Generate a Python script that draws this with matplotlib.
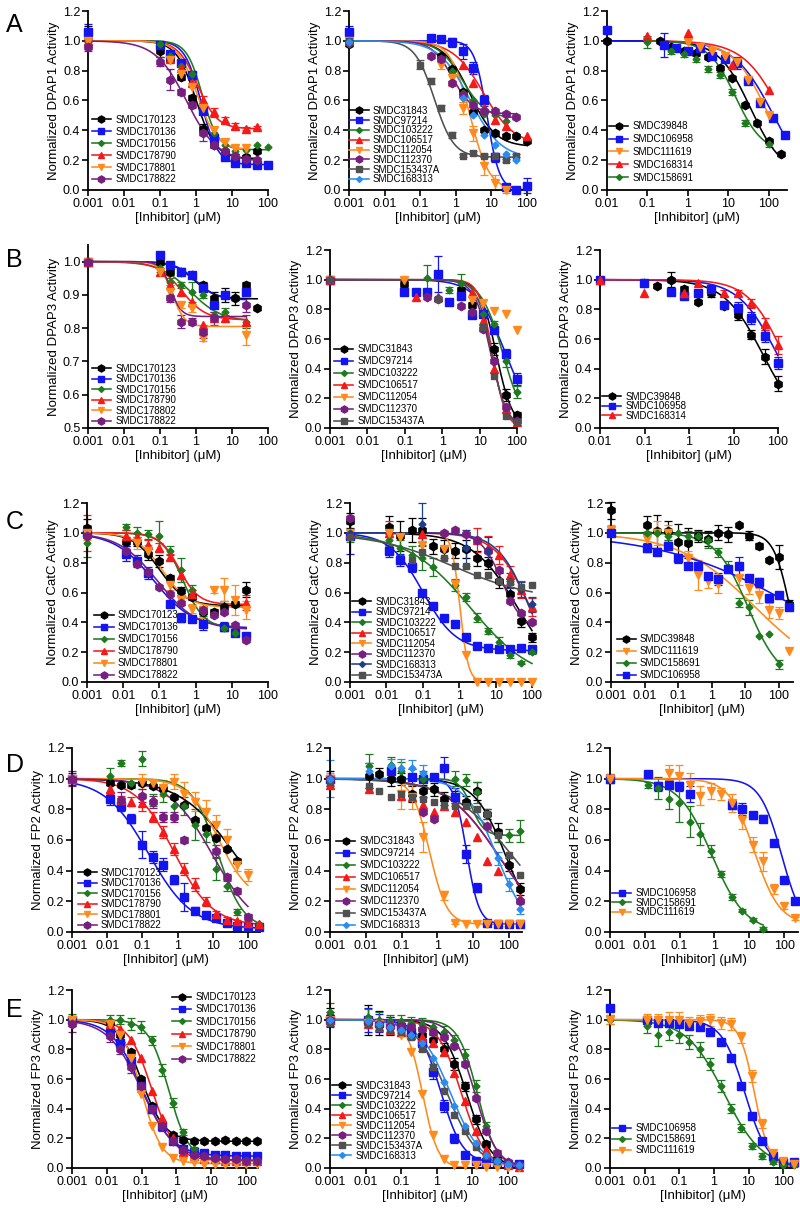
import numpy as np
import matplotlib
matplotlib.use("Agg")
import matplotlib.pyplot as plt
from matplotlib.lines import Line2D
from matplotlib.ticker import NullLocator

plt.rcParams['font.family'] = ['Liberation Sans', 'DejaVu Sans']

# ---------------- data ----------------
# concentration grids (uM); the control sits at the left edge of the axis
CONC_A = [0.001, 0.098, 0.195, 0.39, 0.78, 1.56, 3.125, 6.25, 12.5, 25, 50, 100]
CONC_C1 = [0.001, 0.012, 0.024, 0.049, 0.098, 0.195, 0.39, 0.78, 1.56, 3.125, 6.25, 12.5, 25]
CONC_C2 = [0.001, 0.012, 0.024, 0.049, 0.098, 0.195, 0.39, 0.78, 1.56, 3.125, 6.25, 12.5, 25, 50, 100]
CONC_F = [0.001, 0.012, 0.024, 0.049, 0.098, 0.195, 0.39, 0.78, 1.56, 3.125, 6.25, 12.5, 25, 50, 100, 200]

SET1 = ['SMDC170123', 'SMDC170136', 'SMDC170156', 'SMDC178790', 'SMDC178801', 'SMDC178822']
SET2 = ['SMDC31843', 'SMDC97214', 'SMDC103222', 'SMDC106517', 'SMDC112054', 'SMDC112370',
        'SMDC153437A', 'SMDC168313']

# A: DPAP1
A1_y = [[1.03, 0.93, 0.88, 0.76, 0.62, 0.41, 0.30, 0.25, 0.20, 0.22, 0.26, None],
        [1.06, 0.97, 0.91, 0.85, 0.77, 0.53, 0.35, 0.22, 0.18, 0.18, 0.17, 0.17],
        [1.00, 0.98, 0.90, 0.83, 0.78, 0.56, 0.38, 0.30, 0.26, 0.27, 0.30, 0.29],
        [1.00, None, 0.88, 0.82, 0.72, 0.60, 0.52, 0.47, 0.43, 0.41, 0.42, None],
        [1.00, None, 0.87, 0.78, 0.69, 0.55, 0.40, 0.32, 0.28, 0.28, None, None],
        [0.96, 0.86, 0.74, 0.66, 0.57, 0.38, 0.30, 0.26, 0.23, 0.21, 0.20, None]]
A1_err = {0: [0.07, 0.04, 0.02, 0.02, 0.02, 0.03, 0.01, 0.01, 0.01, 0.01, 0.01, 0],
          1: [0.05, 0.03, 0.02, 0.02, 0.02, 0.02, 0.01, 0.01, 0.01, 0.01, 0.01, 0.01],
          3: [0.03, 0, 0.02, 0.02, 0.02, 0.03, 0.03, 0.02, 0.02, 0.01, 0.01, 0],
          5: [0.03, 0.03, 0.07, 0.02, 0.02, 0.05, 0.02, 0.01, 0.01, 0.01, 0.01, 0]}
A1_fit = [(0.21, 1.0, 1.6), (0.17, 1.4, 1.9), (0.27, 1.5, 2.0), (0.41, 1.1, 1.6),
          (0.27, 1.1, 1.6), (0.19, 0.55, 1.0)]

A2_y = [[0.98, None, None, 0.90, 0.81, 0.66, 0.52, 0.40, 0.38, 0.36, 0.36, 0.33],
        [1.06, None, 1.02, 1.01, 0.99, 0.93, 0.82, 0.60, 0.22, 0.02, 0.00, 0.03],
        [0.98, None, None, 0.88, 0.80, 0.65, 0.60, 0.51, 0.50, 0.46, 0.49, None],
        [1.00, None, None, None, None, 0.84, 0.72, 0.55, 0.47, 0.43, None, 0.36],
        [1.00, None, None, 0.84, 0.75, 0.55, 0.38, 0.16, 0.05, 0.00, None, None],
        [0.99, None, 0.90, 0.88, 0.72, 0.64, 0.57, 0.53, 0.53, 0.51, 0.49, None],
        [1.00, 0.84, 0.73, 0.55, 0.37, 0.23, 0.25, 0.23, 0.23, 0.20, 0.23, None],
        [0.99, None, None, None, None, 0.62, 0.50, 0.37, 0.30, 0.24, 0.20, None]]
A2_err = {1: [0.04, 0, 0.02, 0.02, 0.03, 0.05, 0.04, 0.04, 0.03, 0.02, 0.02, 0.05],
          4: [0.02, 0, 0, 0.03, 0.05, 0.04, 0.05, 0.06, 0.05, 0.02, 0, 0],
          6: [0.02, 0.03, 0.02, 0.02, 0.02, 0.01, 0.01, 0.01, 0.01, 0.01, 0.01, 0]}
A2_fit = [(0.29, 2.5, 1.2), (0.0, 7.5, 2.5), (0.48, 1.5, 1.3), (0.30, 6.0, 1.0),
          (0.0, 2.5, 1.6), (0.51, 0.8, 1.5), (0.22, 0.25, 1.6), (0.21, 2.5, 1.0)]

A3_names = ['SMDC39848', 'SMDC106958', 'SMDC111619', 'SMDC168314', 'SMDC158691']
A3_x = [[0.01, 0.2, 0.39, 0.78, 1.56, 3.1, 6.25, 12.5, 25, 50, 100, 200],
        [0.01, 0.25, 0.5, 1, 2, 4, 8, 16, 31, 62, 125, 250],
        [0.1, 1, 2, 4, 8, 16, 31, 62, 100],
        [0.1, 1, 12.5, 100],
        [0.1, 0.39, 0.78, 1.56, 3.1, 6.25, 12.5, 25, 100]]
A3_y = [[1.00, 1.00, 0.96, 0.93, 0.92, 0.89, 0.82, 0.75, 0.57, 0.45, 0.33, 0.24],
        [1.07, 0.97, 0.95, 0.93, 0.95, 0.90, 0.88, 0.85, 0.73, 0.58, 0.48, 0.37],
        [1.00, 0.99, 0.96, 0.93, 0.90, 0.86, 0.74, 0.59, 0.50],
        [1.03, 1.05, 0.84, 0.67],
        [0.99, 0.93, 0.91, 0.88, 0.81, 0.77, 0.66, 0.45, 0.31]]
A3_err = {1: [0, 0.08, 0.02, 0.02, 0.02, 0.02, 0.02, 0.04, 0.02, 0.02, 0.02, 0.02],
          4: [0.04, 0.02, 0.02, 0.02, 0.02, 0.02, 0.02, 0.02, 0.02]}
A3_fit = [(0.1, 35, 1.1), (0.0, 130, 0.9), (0.0, 100, 1.0), (0.0, 220, 0.9), (0.25, 15, 1.3)]

# B: DPAP3
B1_names = ['SMDC170123', 'SMDC170136', 'SMDC170156', 'SMDC178790', 'SMDC178802', 'SMDC178822']
B1_conc = [0.001, 0.098, 0.195, 0.39, 0.78, 1.56, 3.125, 6.25, 12.5, 25, 50]
B1_y = [[1.00, 1.00, 0.97, 0.97, 0.96, 0.93, 0.89, 0.90, 0.89, 0.93, 0.86],
        [1.00, 1.02, 0.99, 0.97, 0.96, 0.92, 0.87, 0.90, None, 0.91, None],
        [1.00, 0.98, 0.94, 0.93, 0.91, 0.90, 0.84, 0.85, None, 0.82, None],
        [1.00, 0.97, 0.93, 0.91, 0.88, 0.81, 0.83, 0.83, None, 0.82, None],
        [1.00, 0.97, 0.91, 0.87, 0.86, 0.77, None, None, None, 0.78, None],
        [1.00, None, 0.89, 0.82, 0.82, 0.79, 0.83, None, None, 0.87, None]]
B1_err = {0: [0, 0.01, 0.01, 0.01, 0.01, 0.01, 0.02, 0.02, 0.02, 0.01, 0],
          2: [0, 0.01, 0.01, 0.01, 0.03, 0.01, 0.01, 0.01, 0, 0.02, 0],
          4: [0, 0.01, 0.02, 0.01, 0.01, 0.01, 0, 0, 0, 0.03, 0],
          5: [0, 0, 0.01, 0.02, 0.01, 0.02, 0.02, 0, 0, 0.02, 0]}
B1_fit = [(0.888, 0.9, 1.5), (0.885, 1.0, 1.5), (0.82, 0.7, 1.0), (0.825, 0.4, 1.3),
          (0.805, 0.22, 2.5), (0.835, 0.2, 3.0)]

B2_names = SET2[:7]
B2_y = [[1.00, 0.97, None, None, None, None, 0.93, 0.83, 0.77, 0.53, 0.22, 0.09],
        [1.00, 0.92, 0.92, 0.92, 1.04, 0.85, 0.89, 0.76, 0.77, 0.66, 0.50, 0.33],
        [1.00, None, None, 1.01, None, 0.93, 0.98, None, 0.77, 0.70, 0.45, 0.24],
        [1.00, None, 0.88, None, 0.88, None, None, 0.91, 0.72, 0.40, 0.13, 0.04],
        [1.00, 1.00, None, None, None, None, None, 0.86, 0.84, 0.79, 0.77, 0.66],
        [1.00, None, None, 0.88, 0.87, None, 0.82, 0.78, 0.67, 0.45, 0.14, 0.05],
        [1.00, None, None, None, 0.87, None, None, None, 0.68, 0.35, 0.08, 0.04]]
B2_err = {1: [0, 0.02, 0.02, 0.02, 0.12, 0.02, 0.02, 0.02, 0.02, 0.02, 0.03, 0.04],
          2: [0, 0, 0, 0.09, 0, 0.02, 0.06, 0, 0.02, 0.02, 0.04, 0.04],
          0: [0, 0.02, 0, 0, 0, 0, 0.02, 0.02, 0.02, 0.04, 0.04, 0.02]}
B2_fit = [(0.0, 28, 2.0), (0.0, 50, 1.1), (0.0, 42, 1.5), (0.0, 22, 2.5), None,
          (0.0, 20, 2.0), (0.0, 21, 2.2)]

B3_names = ['SMDC39848', 'SMDC106958', 'SMDC168314']
B3_conc = [0.01, 0.098, 0.195, 0.39, 0.78, 1.56, 3.125, 6.25, 12.5, 25, 50, 100]
B3_y = [[1.00, 0.98, 0.96, 1.00, 0.94, 0.85, 0.91, 0.82, 0.76, 0.63, 0.48, 0.30],
        [1.00, 0.98, None, 0.92, 0.89, 0.91, 0.94, 0.83, 0.81, 0.74, 0.62, 0.44],
        [1.00, 0.91, None, None, 0.91, 0.98, None, 0.91, 0.91, 0.84, 0.70, 0.56]]
B3_err = {0: [0, 0.01, 0.01, 0.05, 0.02, 0.01, 0.03, 0.01, 0.03, 0.03, 0.05, 0.05],
          1: [0, 0.01, 0, 0.02, 0.01, 0.02, 0.02, 0.02, 0.04, 0.04, 0.04, 0.04],
          2: [0, 0, 0, 0, 0, 0, 0, 0.02, 0.02, 0.03, 0.04, 0.06]}
B3_fit = [(0.0, 45, 1.0), (0.0, 95, 1.0), (0.0, 130, 1.1)]

# C: CatC
C1_y = [[1.03, 0.94, 0.94, 0.86, 0.81, 0.70, 0.61, 0.57, 0.47, 0.47, 0.50, 0.52, 0.62],
        [1.00, 0.86, 0.81, 0.73, None, 0.52, 0.43, 0.42, 0.39, None, 0.37, 0.33, 0.31],
        [0.93, 1.04, 1.00, 0.99, 0.98, 0.88, 0.75, 0.62, 0.47, None, 0.36, 0.33, None],
        [1.00, 0.98, 0.97, 0.92, 0.90, 0.84, 0.72, 0.59, None, None, None, None, 0.53],
        [1.00, None, 0.93, 0.88, None, 0.65, 0.55, 0.49, 0.48, 0.62, 0.62, 0.55, 0.48],
        [0.98, 0.88, 0.79, 0.74, 0.64, 0.59, 0.53, None, 0.48, 0.45, 0.47, 0.38, 0.28]]
C1_err = {0: [0.06, 0.03, 0.03, 0.04, 0.04, 0.02, 0.03, 0.02, 0.04, 0.02, 0.04, 0.02, 0.05],
          1: [0.03, 0.05, 0.04, 0.04, 0, 0.02, 0.03, 0.02, 0.04, 0, 0.03, 0.02, 0.02],
          2: [0.09, 0.02, 0.04, 0.03, 0.10, 0.03, 0.08, 0.03, 0.03, 0, 0.02, 0.02, 0],
          3: [0.12, 0.04, 0.03, 0.03, 0.03, 0.02, 0.03, 0.03, 0, 0, 0, 0, 0.05],
          4: [0.05, 0, 0.04, 0.04, 0, 0.03, 0.03, 0.03, 0.05, 0.02, 0.08, 0.10, 0.06]}
C1_fit = [(0.51, 0.1, 1.2), (0.36, 0.07, 0.8), (0.36, 0.45, 1.5), (0.52, 0.35, 1.6),
          (0.50, 0.12, 1.2), (0.35, 0.09, 0.8)]

C2_names = ['SMDC31843', 'SMDC97214', 'SMDC103222', 'SMDC106517', 'SMDC112054', 'SMDC112370',
            'SMDC168313', 'SMDC153473A']
C2_y = [[1.08, 1.04, 0.98, 1.02, 1.02, 0.91, 0.89, 0.88, 0.89, 0.83, 0.80, 0.68, 0.59, 0.41, 0.30],
        [0.98, 0.88, 0.82, 0.77, 0.60, 0.51, 0.43, 0.39, 0.30, 0.24, 0.23, 0.22, 0.22, 0.23, 0.22],
        [1.00, 0.95, 0.90, 0.85, 0.83, 0.77, None, 0.65, 0.57, 0.43, 0.34, 0.27, 0.18, 0.13, 0.20],
        [1.00, 1.00, None, None, 0.99, None, None, None, None, 0.95, 0.90, 0.85, 0.72, 0.62, 0.50],
        [1.00, 1.00, 0.97, None, 0.92, None, 0.89, 0.66, 0.18, 0.0, 0.0, 0.0, 0.0, 0.0, 0.0],
        [1.10, None, None, None, None, None, 1.00, 1.02, 0.99, 0.95, 0.88, 0.75, 0.54, 0.46, 0.40],
        [1.00, None, None, None, 1.06, None, None, None, 0.90, None, 0.88, None, 0.68, 0.62, 0.52],
        [0.97, None, None, 0.82, 0.87, None, 0.83, 0.78, 0.78, 0.72, 0.72, 0.68, 0.67, 0.64, 0.65]]
C2_err = {0: [0.05, 0.07, 0.10, 0.08, 0.08, 0.05, 0.06, 0.05, 0.06, 0.05, 0.04, 0.05, 0.05, 0.04, 0.03],
          1: [0.12, 0.04, 0.04, 0.03, 0.02, 0.02, 0.02, 0.02, 0.02, 0.02, 0.01, 0.01, 0.01, 0.02, 0.02],
          2: [0.06, 0.04, 0.05, 0.06, 0.08, 0.06, 0, 0.04, 0.03, 0.03, 0.02, 0.03, 0.02, 0.01, 0.01],
          3: [0, 0.08, 0, 0, 0, 0, 0, 0, 0, 0.08, 0.08, 0.06, 0.06, 0.06, 0.06],
          6: [0, 0, 0, 0, 0.14, 0, 0, 0, 0.12, 0, 0.09, 0, 0.05, 0.05, 0.05]}
C2_fit = [(0.0, 40, 0.7), (0.21, 0.1, 0.95), (0.0, 2.0, 0.5), (0.0, 90, 0.9), (0.0, 1.05, 3.8),
          (0.35, 15, 1.5), (0.0, 85, 1.0), (0.55, 0.7, 0.4)]

C3_names = ['SMDC39848', 'SMDC111619', 'SMDC158691', 'SMDC106958']
C3_y = [[1.15, 1.05, 1.01, 1.01, 0.94, 0.93, 0.98, 0.96, 1.00, 0.99, 1.05, 0.98, 0.91, 0.82, 0.84, 0.52],
        [1.02, 0.96, 1.00, 1.00, None, 0.83, 0.72, 0.68, 0.66, None, 0.70, 0.63, 0.58, 0.48, 0.46, 0.21],
        [1.00, 1.00, 1.00, 0.98, 1.00, 0.98, 0.98, 0.95, 0.87, 0.77, 0.53, 0.50, 0.31, 0.32, 0.12, None],
        [1.00, 0.90, 0.87, 0.91, 0.83, 0.78, 0.78, 0.71, 0.69, 0.76, 0.78, 0.70, 0.67, 0.56, 0.58, 0.50]]
C3_err = {0: [0.06, 0.06, 0.11, 0.07, 0.12, 0.10, 0.04, 0.05, 0.05, 0.05, 0, 0.03, 0.02, 0, 0.08, 0.03],
          1: [0.03, 0.05, 0.08, 0.05, 0, 0.05, 0.10, 0.05, 0.06, 0, 0.05, 0.04, 0.05, 0.05, 0.04, 0],
          2: [0, 0, 0, 0.03, 0, 0.03, 0.03, 0.05, 0.03, 0.04, 0.03, 0.05, 0, 0, 0.03, 0],
          3: [0, 0.03, 0, 0, 0.03, 0, 0, 0.02, 0.04, 0.02, 0.06, 0.02, 0.03, 0.02, 0.02, 0.02]}
C3_fit = [(0.0, 210, 1.8), (0.0, 20, 0.38), (0.0, 12, 0.9), (0.0, 350, 0.216)]

# D: FP2
D1_y = [[1.00, 0.97, 0.96, 0.96, 0.97, 0.95, 0.93, 0.88, 0.83, 0.73, 0.68, 0.61, 0.54, 0.46, None, None],
        [1.00, 0.87, 0.82, 0.74, 0.57, 0.49, 0.44, 0.34, 0.23, 0.14, 0.11, 0.09, 0.06, 0.04, 0.03, 0.03],
        [1.00, 1.02, 1.10, 0.97, 1.13, 0.86, 0.90, 0.82, 0.82, 0.70, 0.64, 0.41, 0.30, 0.13, 0.10, 0.05],
        [1.00, 0.93, 0.86, 0.85, 0.84, 0.75, 0.65, 0.54, 0.41, 0.31, 0.20, 0.12, 0.08, 0.07, 0.06, 0.05],
        [1.00, None, None, None, 0.98, 0.97, 0.94, 0.98, 0.90, 0.85, 0.78, 0.70, 0.60, 0.44, 0.37, None],
        [1.00, None, 0.86, None, 0.89, 0.85, 0.75, 0.75, 0.60, None, None, 0.53, 0.36, 0.27, 0.10, None]]
D1_err = {1: [0.04, 0.04, 0.03, 0.03, 0.09, 0.04, 0.04, 0.03, 0.09, 0.02, 0.02, 0.01, 0.01, 0.01, 0.01, 0.01],
          2: [0, 0.05, 0.02, 0.03, 0.05, 0.04, 0.05, 0.06, 0.06, 0.10, 0.05, 0.07, 0.03, 0.02, 0.01, 0.01],
          3: [0, 0.03, 0.03, 0.03, 0.05, 0.03, 0.04, 0.04, 0.04, 0.04, 0.03, 0.02, 0.02, 0.01, 0.01, 0.01],
          4: [0, 0, 0, 0, 0.05, 0.03, 0.05, 0.05, 0.08, 0.06, 0.08, 0.06, 0.07, 0.04, 0.04, 0],
          5: [0.05, 0, 0.05, 0, 0.04, 0.04, 0.03, 0.03, 0.02, 0, 0, 0.04, 0.02, 0.02, 0.02, 0]}
D1_fit = [(0.0, 45, 0.55), (0.02, 0.15, 0.7), (0.02, 14, 1.2), (0.04, 0.8, 0.8),
          (0.2, 15, 1.0), (0.0, 10, 0.7)]

D2_y = [[1.00, 1.02, 1.03, 1.00, 1.00, 0.90, 0.92, 0.93, 0.87, 0.88, 0.85, 0.92, 0.77, 0.65, 0.44, 0.28],
        [1.00, None, None, 1.05, None, 1.01, 1.00, 1.01, 1.07, 0.88, 0.51, 0.29, 0.06, 0.05, 0.05, 0.05],
        [1.00, 1.08, None, 1.09, 1.05, None, 1.00, None, None, 1.00, 0.99, 0.91, 0.77, 0.63, 0.63, 0.66],
        [0.96, 0.93, None, None, 0.89, 0.88, 0.83, 0.78, 0.82, 0.78, 0.72, 0.62, 0.46, 0.40, None, 0.22],
        [1.00, None, None, None, 0.90, 0.88, 0.62, None, 0.24, 0.06, 0.05, 0.05, 0.05, 0.05, 0.05, 0.05],
        [1.00, None, None, None, None, None, 0.78, 0.74, None, None, None, None, 0.69, None, None, 0.20],
        [0.98, 0.95, 0.92, 0.88, 0.90, 0.88, 0.87, 0.85, 0.83, 0.82, 0.82, 0.80, 0.77, 0.63, 0.50, 0.37],
        [1.00, 1.05, None, 1.08, 1.07, 1.07, 1.04, None, None, None, None, None, None, 0.48, 0.31, 0.15]]
D2_err = {0: [0.05, 0.08, 0.04, 0.05, 0.04, 0.05, 0.04, 0.04, 0.04, 0.04, 0.04, 0.06, 0.03, 0.06, 0.04, 0.04],
          1: [0, 0, 0, 0, 0, 0.05, 0, 0, 0.07, 0.06, 0.06, 0.03, 0, 0, 0, 0],
          2: [0, 0.08, 0, 0.05, 0.06, 0, 0.05, 0, 0, 0.05, 0.04, 0.07, 0.03, 0.04, 0.04, 0.07],
          4: [0.04, 0, 0, 0, 0.10, 0.08, 0.10, 0, 0.03, 0.01, 0, 0, 0, 0, 0, 0],
          7: [0.12, 0.05, 0, 0.05, 0.06, 0.05, 0.05, 0, 0, 0, 0, 0, 0, 0.04, 0.04, 0.03]}
D2_fit = [(0.0, 80, 1.0), (0.05, 6.5, 2.5), (0.63, 9, 2.5), (0.0, 50, 0.6), (0.05, 0.6, 1.8),
          (0.0, 50, 0.6), (0.0, 120, 0.5), (0.0, 45, 1.0)]

D3_names = ['SMDC106958', 'SMDC158691', 'SMDC111619']
D3_y = [[1.00, 1.03, 0.95, 0.96, 0.95, 0.90, None, None, None, 0.83, 0.80, 0.76, 0.74, 0.58, 0.34, 0.20],
        [1.00, 0.96, 0.94, 0.87, 0.84, 0.72, 0.64, 0.53, 0.38, 0.23, 0.14, 0.08, 0.02, None, None, None],
        [1.00, None, None, 1.04, 1.02, 0.96, 0.89, 0.92, 0.90, 0.84, 0.73, 0.57, 0.46, 0.28, 0.17, 0.09]]
D3_err = {0: [0.03, 0, 0.03, 0.03, 0.03, 0.05, 0, 0, 0, 0.03, 0.04, 0.02, 0.02, 0.02, 0.02, 0.02],
          1: [0, 0.02, 0.07, 0.07, 0.12, 0.10, 0.07, 0.04, 0.02, 0.02, 0.01, 0.01, 0.01, 0, 0, 0],
          2: [0.03, 0, 0, 0.05, 0.07, 0.08, 0.06, 0.05, 0.04, 0.06, 0.06, 0.05, 0.06, 0.03, 0.02, 0.01]}
D3_fit = [(0.0, 85, 1.4), (0.0, 0.85, 0.9), (0.05, 14, 1.2)]

# E: FP3
E1_y = [[1.00, 0.98, 0.90, 0.78, 0.60, 0.42, 0.30, 0.22, 0.19, 0.18, 0.18, 0.18, 0.19, 0.18, 0.18, 0.18],
        [1.00, 0.92, 0.84, 0.72, 0.55, 0.40, 0.28, 0.18, 0.13, 0.11, 0.10, 0.09, 0.09, 0.08, 0.08, 0.08],
        [1.00, 1.00, 1.00, 0.97, 0.95, 0.86, 0.66, 0.44, 0.24, 0.13, 0.08, 0.07, 0.06, 0.05, 0.05, 0.05],
        [1.00, 0.97, 0.94, 0.86, 0.74, 0.52, 0.34, 0.20, 0.11, 0.08, 0.06, 0.06, 0.05, 0.05, 0.05, 0.05],
        [1.00, 0.97, 0.90, 0.74, 0.50, 0.28, 0.14, 0.07, 0.05, 0.04, 0.03, 0.03, 0.03, 0.03, 0.03, 0.03],
        [0.97, 0.89, 0.80, 0.68, 0.55, 0.40, 0.28, 0.18, 0.12, 0.09, 0.08, 0.07, 0.06, 0.06, 0.05, 0.05]]
E1_err = {2: [0.04, 0.03, 0.03, 0.04, 0.04, 0.03, 0.04, 0.03, 0.02, 0.01, 0.01, 0.01, 0.01, 0.01, 0.01, 0.01],
          5: [0.05, 0.04, 0.03, 0.04, 0.04, 0.03, 0.03, 0.02, 0.01, 0.01, 0.01, 0.01, 0.01, 0.01, 0.01, 0.01]}
E1_fit = [(0.18, 0.1, 1.3), (0.08, 0.1, 1.0), (0.05, 0.6, 1.5), (0.05, 0.2, 1.3),
          (0.03, 0.1, 1.5), (0.05, 0.1, 0.9)]

E2_y = [[1.02, 1.00, 0.98, 0.96, 0.94, 0.92, 0.90, 0.86, 0.80, 0.70, 0.55, 0.33, 0.16, 0.06, 0.03, 0.02],
        [1.00, 1.00, 0.98, 0.97, 0.95, 0.92, 0.84, 0.65, 0.42, 0.20, 0.09, 0.05, 0.04, 0.04, 0.03, 0.03],
        [1.05, 1.02, 1.00, 0.99, 0.99, 0.98, 0.97, 0.95, 0.92, 0.86, 0.76, 0.55, 0.28, 0.10, 0.04, 0.02],
        [1.00, 0.97, 0.95, 0.93, 0.92, 0.90, 0.88, 0.84, 0.78, 0.64, 0.45, 0.25, 0.12, 0.05, 0.02, 0.01],
        [1.00, 0.98, 0.97, 0.95, 0.90, 0.78, 0.50, 0.22, 0.06, 0.02, 0.02, 0.02, 0.01, 0.01, 0.01, 0.01],
        [1.00, 0.98, 0.97, 0.96, 0.96, 0.95, 0.94, 0.92, 0.88, 0.82, 0.70, 0.47, 0.25, 0.10, 0.04, 0.02],
        [0.98, 0.97, 0.95, 0.93, 0.92, 0.88, 0.80, 0.68, 0.52, 0.36, 0.25, 0.14, 0.08, 0.05, None, None],
        [1.00, 0.99, 0.97, 0.95, 0.93, 0.90, 0.84, 0.74, 0.58, 0.42, 0.28, 0.17, 0.09, 0.05, 0.03, 0.02]]
E2_err = {0: [0.06, 0.10, 0.08, 0.06, 0.05, 0.05, 0.04, 0.04, 0.04, 0.04, 0.03, 0.03, 0.02, 0.01, 0.01, 0.01],
          1: [0.05, 0.08, 0.06, 0.05, 0.04, 0.04, 0.05, 0.05, 0.04, 0.03, 0.02, 0.01, 0.01, 0.01, 0.01, 0.01],
          2: [0.06, 0.05, 0.05, 0.04, 0.04, 0.04, 0.04, 0.04, 0.04, 0.04, 0.04, 0.04, 0.03, 0.02, 0.01, 0.01]}
E2_fit = [(0.0, 7, 1.3), (0.03, 1.3, 1.4), (0.0, 14, 1.6), (0.0, 5, 1.3), (0.0, 0.4, 2.0),
          (0.0, 12, 1.4), (0.0, 2, 1.0), (0.0, 2.5, 1.0)]

E3_names = ['SMDC106958', 'SMDC158691', 'SMDC111619']
E3_y = [[1.08, 1.00, 0.98, 0.98, 0.97, 0.96, 0.95, 0.92, 0.85, 0.74, 0.55, 0.35, 0.18, 0.08, 0.04, 0.04],
        [1.00, 0.96, 0.90, 0.92, 0.90, 0.85, 0.80, 0.70, 0.55, 0.40, 0.27, 0.15, 0.08, 0.04, 0.02, 0.02],
        [1.00, 1.00, 1.00, 1.00, 1.00, 0.98, 0.99, 1.00, 0.98, 0.97, 0.88, 0.62, 0.30, 0.10, 0.05, 0.03]]
E3_err = {1: [0.03, 0.05, 0.08, 0.06, 0.06, 0.05, 0.05, 0.04, 0.04, 0.03, 0.03, 0.02, 0.02, 0.01, 0.01, 0.01],
          2: [0.03, 0.04, 0.04, 0.05, 0.05, 0.04, 0.04, 0.04, 0.04, 0.04, 0.04, 0.04, 0.03, 0.02, 0.01, 0.01]}
E3_fit = [(0.0, 8, 1.3), (0.0, 2, 0.8), (0.0, 15, 2.0)]

# ---------------- styles ----------------
BLACK, BLUE, GREEN, RED = '#000000', '#1414f0', '#1f7a1f', '#f51a1a'
ORANGE, PURPLE, GRAY, LTBLUE, NAVY = '#ff8a1e', '#771f7f', '#505050', '#2b8cf0', '#1c3f8c'
STYLE = {
    'SMDC170123': (BLACK, 'h', 6), 'SMDC170136': (BLUE, 's', 5.5), 'SMDC170156': (GREEN, 'D', 3.5),
    'SMDC178790': (RED, '^', 5.5), 'SMDC178801': (ORANGE, 'v', 5.5), 'SMDC178802': (ORANGE, 'v', 5.5),
    'SMDC178822': (PURPLE, 'h', 6),
    'SMDC31843': (BLACK, 'h', 6), 'SMDC97214': (BLUE, 's', 5.5), 'SMDC103222': (GREEN, 'D', 3.5),
    'SMDC106517': (RED, '^', 5.5), 'SMDC112054': (ORANGE, 'v', 5.5), 'SMDC112370': (PURPLE, 'h', 6),
    'SMDC153437A': (GRAY, 's', 5), 'SMDC153473A': (GRAY, 's', 5), 'SMDC168313': (LTBLUE, 'D', 3.5),
    'SMDC39848': (BLACK, 'h', 6), 'SMDC106958': (BLUE, 's', 5.5), 'SMDC111619': (ORANGE, 'v', 5.5),
    'SMDC168314': (RED, '^', 5.5), 'SMDC158691': (GREEN, 'D', 3.5),
}

W, H = 800, 1218
fig = plt.figure(figsize=(W / 100, H / 100), dpi=100)


def hill(x, bottom, ic50, h):
    return bottom + (1.0 - bottom) / (1 + (x / ic50) ** h)


def fmt(t):
    return ('%g' % t)


def panel(box, names, conc, ys, errs, fits, xlim, ylim, yticks, xticks, ylabel, leg, override=None):
    l, t, r, b = box
    ax = fig.add_axes([l / W, 1 - b / H, (r - l) / W, (b - t) / H])
    override = override or {}
    for i, name in enumerate(names):
        color, marker, ms = STYLE[name]
        color = override.get(name, color)
        x = np.array(conc[i] if isinstance(conc[0], list) else conc, float)
        y = np.array([np.nan if v is None else v for v in ys[i]], float)
        ok = ~np.isnan(y)
        if i in errs:
            e = np.array(errs[i], float)
            m = ok & (e > 0)
            ax.errorbar(x[m], y[m], yerr=e[m], fmt='none', ecolor=color, elinewidth=0.9,
                        capsize=2.8, capthick=0.9, zorder=2, clip_on=False)
        ax.plot(x[ok], y[ok], ls='none', marker=marker, color=color, ms=ms, mec=color,
                zorder=3, clip_on=False)
        if fits[i] is not None:
            xx = np.logspace(np.log10(x[ok].min()), np.log10(x[ok].max()), 300)
            ax.plot(xx, hill(xx, *fits[i]), color=color, lw=1.15, zorder=2.5, clip_on=False)
    ax.set_xscale('log')
    ax.set_xlim(*xlim)
    ax.set_ylim(*ylim)
    ax.set_xticks(xticks)
    ax.set_xticklabels([fmt(v) for v in xticks])
    ax.xaxis.set_minor_locator(NullLocator())
    ax.set_yticks(yticks)
    ax.set_yticklabels(['%.1f' % v for v in yticks])
    for s in ('top', 'right'):
        ax.spines[s].set_visible(False)
    for s in ('left', 'bottom'):
        ax.spines[s].set_linewidth(1.3)
    ax.tick_params(direction='out', length=4, width=1.2, labelsize=9, pad=1.5)
    ax.set_xlabel('[Inhibitor] (\u03bcM)', fontsize=9.5, labelpad=2)
    ax.set_ylabel(ylabel, fontsize=9.5, labelpad=2)
    handles = []
    for name in names:
        color, marker, ms = STYLE[name]
        color = override.get(name, color)
        handles.append(Line2D([], [], color=color, marker=marker, ms=ms * 0.85, lw=1.15))
    loc, anchor, spacing = leg
    ax.legend(handles, names, loc=loc, bbox_to_anchor=anchor, frameon=False, fontsize=7,
              labelspacing=spacing, handlelength=2.0, handletextpad=0.4, borderpad=0.2,
              borderaxespad=0.0)
    return ax


DEC5 = [0.001, 0.01, 0.1, 1, 10, 100]
DEC4 = [0.01, 0.1, 1, 10, 100]
Y12 = [0.0, 0.2, 0.4, 0.6, 0.8, 1.0, 1.2]
YB1 = [0.5, 0.6, 0.7, 0.8, 0.9, 1.0]

panel((88, 11, 268, 190), SET1, CONC_A, A1_y, A1_err, A1_fit, (0.001, 100), (0, 1.2), Y12, DEC5,
      'Normalized DPAP1 Activity', ('lower left', (0.01, 0.02), 0.2))
panel((349, 11, 527, 190), SET2, CONC_A, A2_y, A2_err, A2_fit, (0.001, 100), (0, 1.2), Y12, DEC5,
      'Normalized DPAP1 Activity', ('lower left', (-0.01, 0.02), -0.02))
panel((607, 11, 787, 190), A3_names, A3_x, A3_y, A3_err, A3_fit, (0.01, 280), (0, 1.2), Y12, DEC4,
      'Normalized DPAP1 Activity', ('lower left', (0.0, 0.03), 0.3))

panel((88, 245, 268, 428), B1_names, B1_conc, B1_y, B1_err, B1_fit, (0.001, 100), (0.5, 1.05), YB1, DEC5,
      'Normalized DPAP3 Activity', ('lower left', (0.01, 0.0), 0.05))
panel((330, 250, 517, 428), B2_names, CONC_A, B2_y, B2_err, B2_fit, (0.001, 100), (0, 1.2), Y12, DEC5,
      'Normalized DPAP3 Activity', ('lower left', (0.01, 0.0), 0.2))
panel((600, 250, 778, 428), B3_names, B3_conc, B3_y, B3_err, B3_fit, (0.01, 100), (0, 1.2), Y12, DEC4,
      'Normalized DPAP3 Activity', ('lower left', (0.0, 0.03), -0.05))

panel((87, 503, 268, 682), SET1, CONC_C1, C1_y, C1_err, C1_fit, (0.001, 100), (0, 1.2), Y12, DEC5,
      'Normalized CatC Activity', ('lower left', (0.03, 0.0), 0.2))
panel((350, 503, 532, 682), C2_names, CONC_C2, C2_y, C2_err, C2_fit, (0.001, 100), (0, 1.2), Y12, DEC5,
      'Normalized CatC Activity', ('lower left', (0.0, 0.0), 0.05), override={'SMDC168313': NAVY})
panel((611, 503, 793, 682), C3_names, CONC_F, C3_y, C3_err, C3_fit, (0.001, 260), (0, 1.2), Y12, DEC5,
      'Normalized CatC Activity', ('lower left', (0.02, 0.0), 0.2))

panel((72, 748, 260, 932), SET1, CONC_F, D1_y, D1_err, D1_fit, (0.001, 220), (0, 1.2), Y12, DEC5,
      'Normalized FP2 Activity', ('lower left', (0.02, 0.0), 0.05))
panel((330, 748, 522, 932), SET2, CONC_F, D2_y, D2_err, D2_fit, (0.001, 230), (0, 1.2), Y12, DEC5,
      'Normalized FP2 Activity', ('lower left', (0.02, 0.0), 0.2))
panel((610, 748, 798, 932), D3_names, CONC_F, D3_y, D3_err, D3_fit, (0.001, 250), (0, 1.2), Y12, DEC5,
      'Normalized FP2 Activity', ('lower left', (0.0, 0.07), -0.05))

panel((72, 990, 258, 1168), SET1, CONC_F, E1_y, E1_err, E1_fit, (0.001, 220), (0, 1.2), Y12, DEC5,
      'Normalized FP3 Activity', ('upper right', (1.0, 1.0), 0.25))
panel((330, 990, 520, 1168), SET2, CONC_F, E2_y, E2_err, E2_fit, (0.001, 220), (0, 1.2), Y12, DEC5,
      'Normalized FP3 Activity', ('lower left', (0.0, 0.03), 0.0))
panel((610, 990, 795, 1168), E3_names, CONC_F, E3_y, E3_err, E3_fit, (0.001, 220), (0, 1.2), Y12, DEC5,
      'Normalized FP3 Activity', ('lower left', (0.0, 0.06), 0.1))

for letter, ypix in zip('ABCDE', [25, 260, 522, 765, 1010]):
    fig.text(6 / W, 1 - ypix / H, letter, fontsize=18, va='center', ha='left')

fig.savefig('out.png', dpi=100)
